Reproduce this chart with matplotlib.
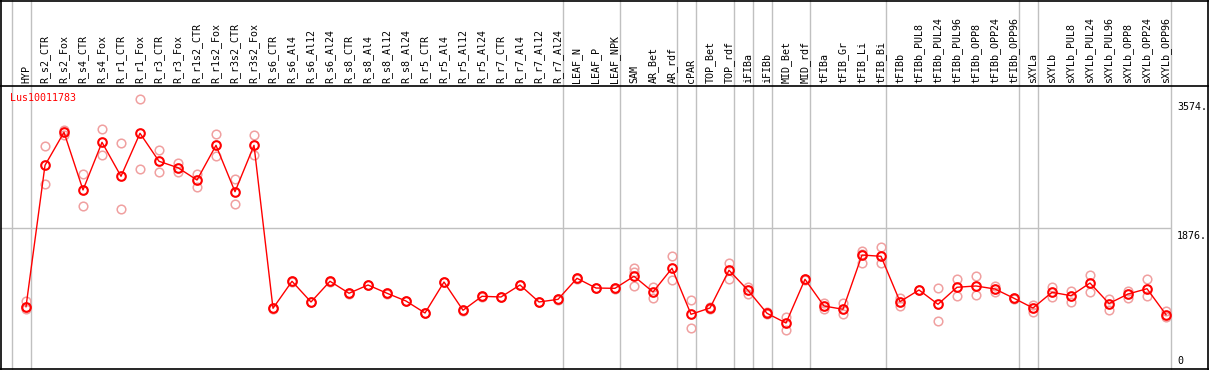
import numpy as np
import matplotlib
matplotlib.use("Agg")
from matplotlib import pyplot as plt
from matplotlib.transforms import blended_transform_factory, ScaledTranslation

gene = "Lus10011783"

samples = ["HYP", "R_s2_CTR", "R_s2_Fox", "R_s4_CTR", "R_s4_Fox", "R_r1_CTR", "R_r1_Fox",
           "R_r3_CTR", "R_r3_Fox", "R_r1s2_CTR", "R_r1s2_Fox", "R_r3s2_CTR", "R_r3s2_Fox",
           "R_s6_CTR", "R_s6_Al4", "R_s6_Al12", "R_s6_Al24", "R_s8_CTR", "R_s8_Al4",
           "R_s8_Al12", "R_s8_Al24", "R_r5_CTR", "R_r5_Al4", "R_r5_Al12", "R_r5_Al24",
           "R_r7_CTR", "R_r7_Al4", "R_r7_Al12", "R_r7_Al24", "LEAF_N", "LEAF_P", "LEAF_NPK",
           "SAM", "AR_Bet", "AR_rdf", "cPAR", "TOP_Bet", "TOP_rdf", "iFIBa", "iFIBb",
           "MID_Bet", "MID_rdf", "tFIBa", "tFIB_Gr", "tFIB_Li", "tFIB_Bi", "tFIBb",
           "tFIBb_PUL8", "tFIBb_PUL24", "tFIBb_PUL96", "tFIBb_OPP8", "tFIBb_OPP24",
           "tFIBb_OPP96", "sXYLa", "sXYLb", "sXYLb_PUL8", "sXYLb_PUL24", "sXYLb_PUL96",
           "sXYLb_OPP8", "sXYLb_OPP24", "sXYLb_OPP96"]

# mean expression per sample
means = [834, 2697, 3132, 2372, 3000, 2552, 3119, 2750, 2665, 2503, 2960, 2349, 2960,
         813, 1169, 896, 1169, 1011, 1120, 1011, 909, 751, 1159, 787, 971,
         962, 1120, 896, 931, 1208, 1080, 1076,
         1235, 1028, 1340, 734, 817, 1314, 1050, 747,
         619, 1195, 843, 800, 1515, 1498, 900,
         1054, 866, 1090, 1107, 1067, 945, 817, 1024,
         979, 1146, 876, 1001, 1071, 729]

# replicate values per sample
reps = [[913, 804, 830], [2951, 2447], [3165, 3100], [2578, 2161], [3171, 2833],
        [2987, 2121], [3574, 2648], [2895, 2605], [2731, 2605], [2578, 2415],
        [3105, 2816], [2520, 2183], [3092, 2829],
        [820, 806], [1175, 1163], [900, 892], [1175, 1163], [1015, 1007], [1125, 1115],
        [1015, 1007], [913, 905], [755, 747], [1163, 1155], [791, 783], [975, 967],
        [966, 958], [1124, 1116], [900, 892], [935, 927], [1212, 1204], [1084, 1076],
        [1080, 1072],
        [1348, 1107, 1290], [1090, 953], [1502, 1182], [918, 549], [825, 809],
        [1410, 1203], [1097, 1001], [760, 734], [694, 523], [1200, 1190],
        [879, 800], [879, 738], [1572, 1414, 1530], [1617, 1414], [945, 847],
        [1060, 1048], [1076, 646], [1195, 975], [1238, 988], [1107, 1024], [950, 940],
        [856, 760], [1090, 966], [1045, 892], [1252, 1032], [931, 791], [1041, 945],
        [1195, 971], [781, 702]]

# last column index of each sample group (grey separators)
group_ends = [-1, 0, 28, 31, 34, 35, 37, 38, 39, 41, 45, 52, 53, 60]

tick_vals = [0, 1876, 3574]
tick_labels = ["0", "1876.", "3574."]

W, H = 1209, 370
px_per_unit = 0.0759
fig = plt.figure(figsize=(W / 100, H / 100), dpi=100)
ax = fig.add_axes([0, 0, 1, 1])
ax.set_xlim(-26 / 19, (W - 26) / 19)
ax.set_ylim(0, H / px_per_unit)
ax.axis("off")

mono = "DejaVu Sans Mono"
fs = 7.2
grey = "#c0c0c0"
x = np.arange(len(samples))

for g in group_ends:
    ax.axvline(g + 0.24, color=grey, lw=1, zorder=1)
ax.hlines(tick_vals[1], ax.get_xlim()[0], group_ends[-1] + 0.24, color=grey, lw=1, zorder=1)

for i, r in enumerate(reps):
    ax.plot([i] * len(r), r, "o", ms=6.2, mfc="none", mec="#f0a0a0", mew=1.1, zorder=2)
ax.plot(x, means, "-", color="#ff0000", lw=1, zorder=3)
ax.plot(x, means, "o", ms=6.2, mfc="none", mec="#ff0000", mew=1.5, zorder=4)

# header labels
hdr = blended_transform_factory(ax.transData, fig.transFigure)
for i, s in enumerate(samples):
    ax.text(i, (H - 83) / H, s, rotation=90, ha="center", va="bottom",
            family=mono, fontsize=fs, transform=hdr)

fig.add_artist(plt.Line2D([0, 1], [(H - 85.5) / H] * 2, color="black", lw=1.2,
                          transform=fig.transFigure))
# borders
for xs, ys in [([0.5, 0.5], [0, H]), ([W - 1, W - 1], [0, H]),
               ([0, W], [H - 0.5, H - 0.5]), ([0, W], [1, 1])]:
    fig.add_artist(plt.Line2D(np.array(xs) / W, np.array(ys) / H, color="black",
                              lw=1.2, transform=fig.transFigure))

fig.text(10 / W, (H - 98) / H, gene, color="#ff0000", family=mono, fontsize=fs,
         ha="left", va="center")

tk = blended_transform_factory(fig.transFigure, ax.transData)
down = ScaledTranslation(0, -3 / 100, fig.dpi_scale_trans)
for v, s in zip(tick_vals, tick_labels):
    if v == 0:
        ax.text(1177 / W, v, s, family=mono, fontsize=fs, ha="left", va="bottom",
                transform=tk + ScaledTranslation(0, 4 / 100, fig.dpi_scale_trans))
    else:
        ax.text(1177 / W, v, s, family=mono, fontsize=fs, ha="left", va="top",
                transform=tk + down)

fig.savefig("out.png", dpi=100)
